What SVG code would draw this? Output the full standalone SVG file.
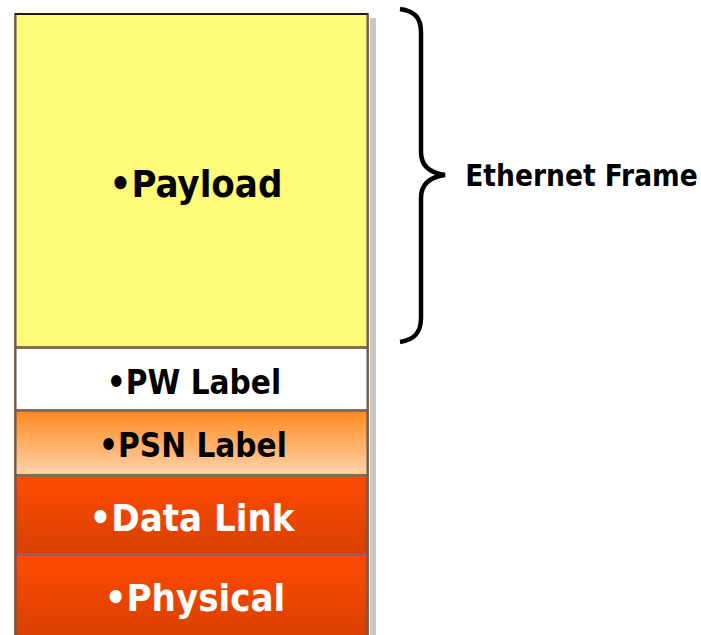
<svg xmlns="http://www.w3.org/2000/svg" width="701" height="635" viewBox="0 0 701 635">
<style>
.t{font-family:"DejaVu Sans Condensed","DejaVu Sans","Liberation Sans",sans-serif;font-stretch:condensed;font-weight:bold;text-anchor:middle}
.box{stroke:#8a6a4f;stroke-width:2}
</style>
<defs>
<linearGradient id="psn" x1="0" y1="0" x2="0" y2="1"><stop offset="0" stop-color="#ff8a1e"/><stop offset="1" stop-color="#ffd2ac"/></linearGradient>
<linearGradient id="red" x1="0" y1="0" x2="0" y2="1"><stop offset="0" stop-color="#ff4a00"/><stop offset="1" stop-color="#d84000"/></linearGradient>
</defs>
<rect x="370" y="18" width="6" height="617" fill="#c8c8c8"/>
<g id="payload"><rect class="box" x="15" y="14" width="353" height="333" fill="#fffa78"/><line x1="15" y1="14" x2="368" y2="14" stroke="#1a1a1a" stroke-width="2"/><text class="t" x="196" y="197" font-size="38">•Payload</text></g>
<g id="pw"><rect class="box" x="15" y="348" width="353" height="62" fill="#ffffff"/><text class="t" x="194" y="394" font-size="33">•PW Label</text></g>
<g id="psn-label"><rect class="box" x="15" y="411" width="353" height="64" fill="url(#psn)"/><text class="t" x="193" y="457" font-size="33">•PSN Label</text></g>
<g id="datalink"><rect class="box" x="15" y="476" width="353" height="78" fill="url(#red)"/><text class="t" x="192" y="531" font-size="38" fill="#ffffff">•Data Link</text></g>
<g id="physical"><rect class="box" x="15" y="555" width="353" height="82" fill="url(#red)"/><text class="t" x="195" y="611" font-size="38" fill="#ffffff">•Physical</text></g>
<line x1="16" y1="14" x2="16" y2="635" stroke="#555" stroke-width="1"/>
<line x1="367" y1="14" x2="367" y2="635" stroke="#555" stroke-width="1"/>
<g id="connectors">
<path d="M400,9 C414,11 421,17 421,32 L421,152 C421,166 430,173 445,175 C430,177 421,184 421,198 L421,318 C421,333 414,340 400,342" fill="none" stroke="#000" stroke-width="4.5"/>
</g>
<g id="frame-label"><text class="t" x="581.5" y="186" font-size="29.5">Ethernet Frame</text></g>
</svg>
